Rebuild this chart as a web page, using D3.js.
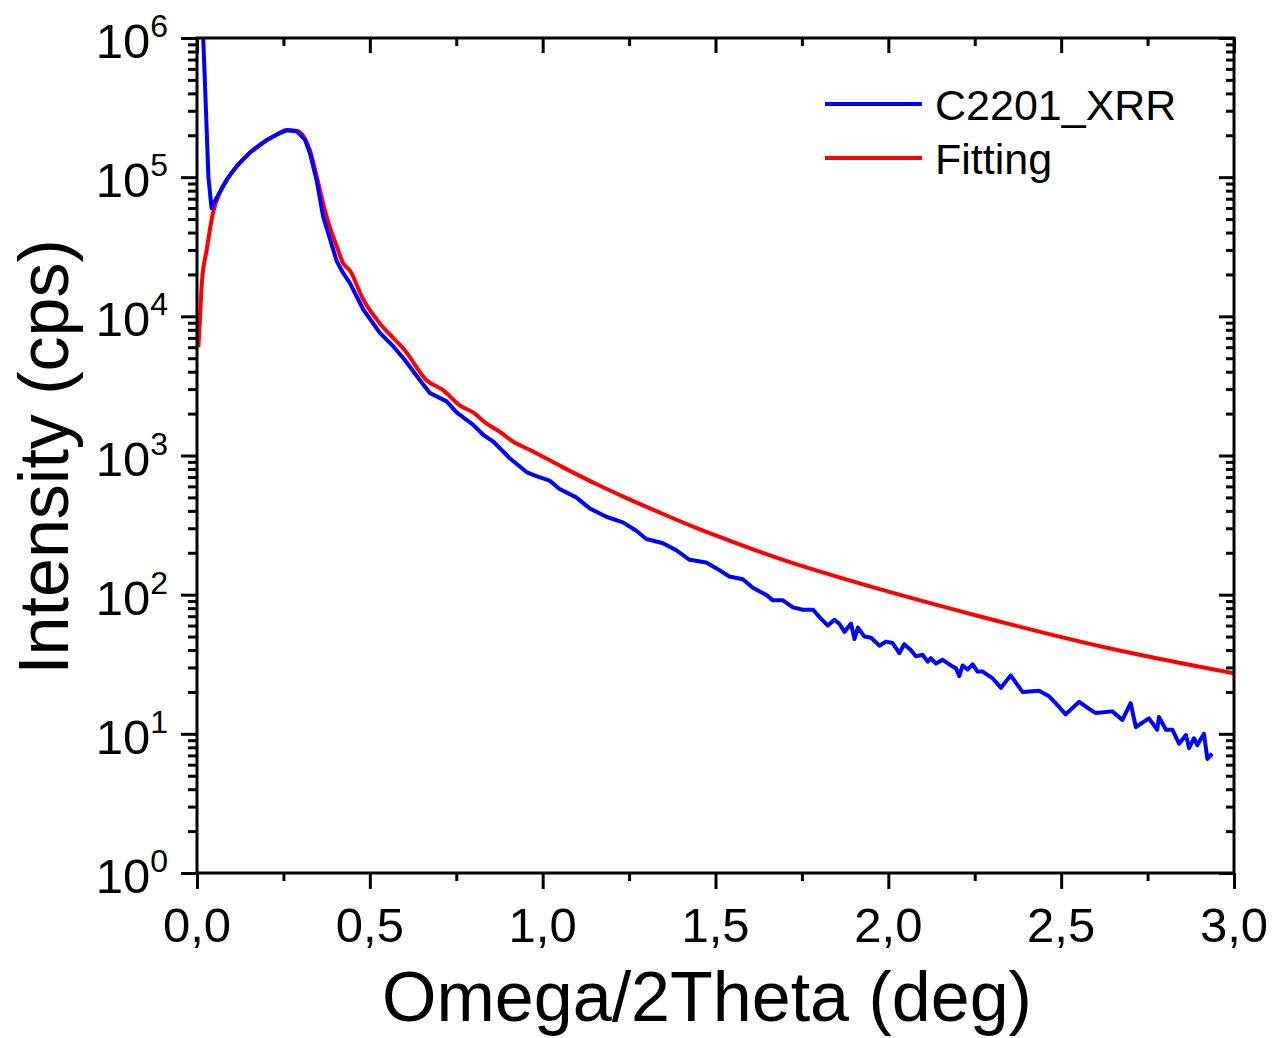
<!DOCTYPE html>
<html>
<head>
<meta charset="utf-8">
<script src="https://cdn.jsdelivr.net/npm/d3@7"></script>
<style>
  body { margin: 0; background: #fff; }
  svg { display: block; font-family: "Liberation Sans", Arial, sans-serif; }
</style>
</head>
<body>
<svg id="chart" width="1276" height="1038"></svg>
<script>
// Measured XRR curve (Omega/2Theta in deg, intensity in cps)
const measTheta = [0.012, 0.018, 0.026, 0.033, 0.042, 0.050, 0.066, 0.090, 0.115, 0.153, 0.201, 0.230, 0.259, 0.288, 0.312, 0.327, 0.346, 0.365, 0.404, 0.423, 0.442, 0.481, 0.529, 0.570, 0.600, 0.645, 0.673, 0.722, 0.751, 0.799, 0.828, 0.857, 0.905, 0.953, 0.982, 1.020, 1.049, 1.097, 1.136, 1.184, 1.232, 1.271, 1.300, 1.348, 1.386, 1.425, 1.473, 1.502, 1.540, 1.579, 1.608, 1.646, 1.666, 1.695, 1.724, 1.753, 1.782, 1.801, 1.825, 1.844, 1.858, 1.873, 1.892, 1.902, 1.912, 1.931, 1.950, 1.974, 1.993, 2.012, 2.032, 2.046, 2.065, 2.080, 2.099, 2.114, 2.123, 2.138, 2.157, 2.181, 2.196, 2.205, 2.215, 2.229, 2.244, 2.258, 2.273, 2.302, 2.326, 2.354, 2.388, 2.436, 2.465, 2.484, 2.513, 2.552, 2.581, 2.600, 2.648, 2.677, 2.701, 2.716, 2.754, 2.778, 2.783, 2.803, 2.822, 2.841, 2.861, 2.870, 2.884, 2.894, 2.913, 2.923, 2.937];
const measInt = [7e6, 1.0e6, 3.0e5, 1.0e5, 6.0e4, 6.6e4, 7.8e4, 9.9e4, 1.2e5, 1.5e5, 1.84e5, 2.02e5, 2.17e5, 2.14e5, 1.86e5, 1.48e5, 9.5e4, 5.2e4, 2.5e4, 2.04e4, 1.74e4, 1.12e4, 7600, 6000, 4900, 3470, 2820, 2450, 2040, 1660, 1410, 1260, 955, 760, 710, 660, 575, 500, 417, 363, 331, 288, 251, 234, 209, 178, 170, 155, 135, 129, 112, 100, 91, 91, 81, 78, 78, 69, 60, 66, 62, 54, 62, 48, 58, 50, 49, 43, 46, 45, 38, 44, 40, 36, 37, 33, 35, 32, 34, 31, 29.5, 26, 31, 29, 31.6, 28, 28, 25, 21.4, 26.3, 20, 20.4, 18.6, 16.6, 13.8, 17, 15.1, 14.1, 14.5, 12.6, 16.6, 11.2, 12.9, 10.7, 13.2, 10.7, 10.7, 8.5, 9.8, 7.9, 9.3, 8.3, 10, 6.6, 7.2];

// Fitted curve
const fitTheta = [0.004, 0.009, 0.014, 0.028, 0.046, 0.066, 0.090, 0.115, 0.153, 0.201, 0.230, 0.259, 0.288, 0.312, 0.327, 0.346, 0.375, 0.404, 0.423, 0.442, 0.481, 0.529, 0.570, 0.600, 0.664, 0.712, 0.760, 0.799, 0.837, 0.876, 0.914, 0.962, 1.059, 1.155, 1.251, 1.348, 1.444, 1.540, 1.637, 1.733, 1.829, 2.032, 2.263, 2.639, 3.000];
const fitInt = [6000, 1.0e4, 1.74e4, 3.0e4, 5.5e4, 7.8e4, 9.9e4, 1.2e5, 1.5e5, 1.84e5, 2.02e5, 2.18e5, 2.16e5, 1.9e5, 1.55e5, 1.02e5, 5.2e4, 3.2e4, 2.4e4, 2.14e4, 1.32e4, 8900, 6900, 5750, 3470, 2950, 2290, 2040, 1700, 1480, 1260, 1100, 822, 624, 484, 380, 302, 245, 200, 166, 140, 100, 70, 41.2, 27.2];

// Axis ticks
const xMajor = [0, 0.5, 1, 1.5, 2, 2.5, 3];
const xMinor = [0.25, 0.75, 1.25, 1.75, 2.25, 2.75];
const yExponents = [0, 1, 2, 3, 4, 5, 6];
const xTickLabels = ["0,0", "0,5", "1,0", "1,5", "2,0", "2,5", "3,0"];

const seriesNames = ["C2201_XRR", "Fitting"];
const seriesColors = ["#0000ff", "#ff0000"];

const plotLeft = 197, plotRight = 1234, plotTop = 38, plotBottom = 873;

const svg = d3.select('#chart');
svg.append('rect').attr('width', 1276).attr('height', 1038).attr('fill', '#fff');

const x = d3.scaleLinear().domain([0, 3]).range([plotLeft, plotRight]);
const y = d3.scaleLog().domain([1, 1e6]).range([plotBottom, plotTop]);

const yMajor = yExponents.map(e => Math.pow(10, e));
const yMinor = [];
yExponents.slice(0, -1).forEach(e => {
    for (let k = 2; k <= 9; k++) yMinor.push(k * Math.pow(10, e));
});

// clip for the data
svg.append('clipPath').attr('id', 'clip')
    .append('rect')
    .attr('x', plotLeft).attr('y', plotTop)
    .attr('width', plotRight - plotLeft).attr('height', plotBottom - plotTop);

const line = d3.line()
    .x(d => x(d[0]))
    .y(d => y(d[1]));

const fitData = fitTheta.map((t, i) => [t, fitInt[i]]);
const measData = measTheta.map((t, i) => [t, measInt[i]]);

const plot = svg.append('g').attr('clip-path', 'url(#clip)');

plot.append('path')
    .datum(fitData)
    .attr('fill', 'none')
    .attr('stroke', seriesColors[1])
    .attr('stroke-width', 4)
    .attr('stroke-linejoin', 'round')
    .attr('d', line.curve(d3.curveMonotoneX));

plot.append('path')
    .datum(measData)
    .attr('fill', 'none')
    .attr('stroke', seriesColors[0])
    .attr('stroke-width', 4)
    .attr('stroke-linejoin', 'round')
    .attr('d', line.curve(d3.curveLinear));

// axes (ticks only, frame drawn separately)
function styleAxis(g) {
    g.select('.domain').remove();
    g.selectAll('.tick line').attr('stroke', '#000').attr('stroke-width', 3);
    g.selectAll('.tick text').remove();
}

const bigTick = 16, smallTick = 8;

// bottom
svg.append('g').attr('transform', `translate(0,${plotBottom})`)
    .call(d3.axisBottom(x).tickValues(xMajor).tickSize(bigTick).tickSizeOuter(0)).call(styleAxis);
svg.append('g').attr('transform', `translate(0,${plotBottom})`)
    .call(d3.axisBottom(x).tickValues(xMinor).tickSize(smallTick).tickSizeOuter(0)).call(styleAxis);
// top (ticks point down, into the plot)
svg.append('g').attr('transform', `translate(0,${plotTop})`)
    .call(d3.axisBottom(x).tickValues(xMajor).tickSize(bigTick - 1).tickSizeOuter(0)).call(styleAxis);
svg.append('g').attr('transform', `translate(0,${plotTop})`)
    .call(d3.axisBottom(x).tickValues(xMinor).tickSize(smallTick).tickSizeOuter(0)).call(styleAxis);
// left
svg.append('g').attr('transform', `translate(${plotLeft},0)`)
    .call(d3.axisLeft(y).tickValues(yMajor).tickSize(bigTick).tickSizeOuter(0)).call(styleAxis);
svg.append('g').attr('transform', `translate(${plotLeft},0)`)
    .call(d3.axisLeft(y).tickValues(yMinor).tickSize(smallTick + 1).tickSizeOuter(0)).call(styleAxis);
// right (ticks point left, into the plot)
svg.append('g').attr('transform', `translate(${plotRight},0)`)
    .call(d3.axisLeft(y).tickValues(yMajor).tickSize(bigTick - 1).tickSizeOuter(0)).call(styleAxis);
svg.append('g').attr('transform', `translate(${plotRight},0)`)
    .call(d3.axisLeft(y).tickValues(yMinor).tickSize(smallTick).tickSizeOuter(0)).call(styleAxis);

// frame
svg.append('rect')
    .attr('x', plotLeft).attr('y', plotTop)
    .attr('width', plotRight - plotLeft).attr('height', plotBottom - plotTop)
    .attr('fill', 'none').attr('stroke', '#000').attr('stroke-width', 3);

// x tick labels
svg.append('g').selectAll('text')
    .data(xMajor)
    .enter()
    .append('text')
    .attr('x', d => x(d))
    .attr('y', 942)
    .attr('text-anchor', 'middle')
    .style('font-size', '49px')
    .text((d, i) => xTickLabels[i]);

// y tick labels: 10^n
const yLabels = svg.append('g').selectAll('text')
    .data(yExponents)
    .enter()
    .append('text')
    .attr('x', 168)
    .attr('y', d => y(Math.pow(10, d)) + 20)
    .attr('text-anchor', 'end')
    .style('font-size', '49px');
yLabels.append('tspan').text('10');
yLabels.append('tspan')
    .attr('dy', -21)
    .style('font-size', '32px')
    .text(d => d);

// axis titles
svg.append('text')
    .attr('x', 707)
    .attr('y', 1021)
    .attr('text-anchor', 'middle')
    .style('font-size', '70px')
    .text('Omega/2Theta (deg)');

svg.append('text')
    .attr('transform', 'translate(68,457) rotate(-90)')
    .attr('text-anchor', 'middle')
    .style('font-size', '70px')
    .text('Intensity (cps)');

// legend
const legend = svg.append('g');
seriesNames.forEach((name, i) => {
    const ly = 104 + i * 54;
    legend.append('line')
        .attr('x1', 825).attr('x2', 922)
        .attr('y1', ly).attr('y2', ly)
        .attr('stroke', seriesColors[i])
        .attr('stroke-width', 4);
    legend.append('text')
        .attr('x', 935)
        .attr('y', ly + 16)
        .style('font-size', '43px')
        .text(name);
});
</script>
</body>
</html>
